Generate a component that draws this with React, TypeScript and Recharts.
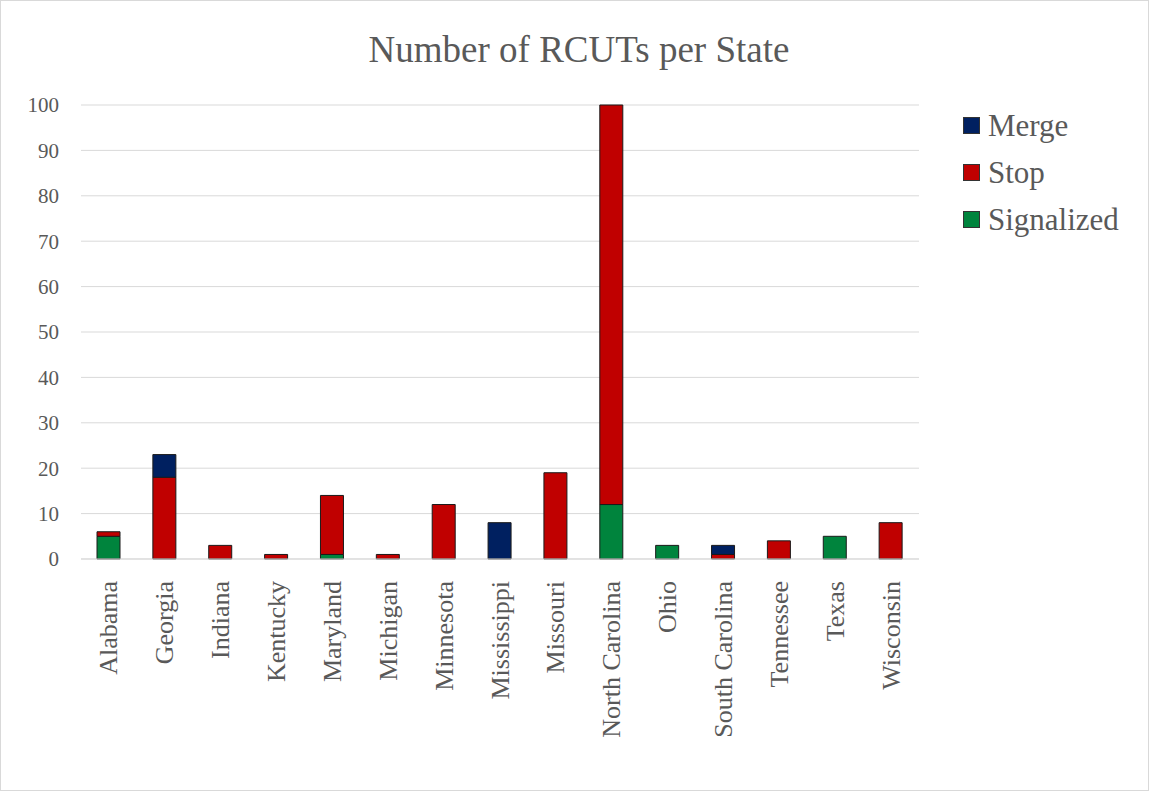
import { BarChart, Bar, XAxis, YAxis, CartesianGrid } from "recharts";

const states = [
  "Alabama", "Georgia", "Indiana", "Kentucky", "Maryland", "Michigan", "Minnesota",
  "Mississippi", "Missouri", "North Carolina", "Ohio", "South Carolina", "Tennessee",
  "Texas", "Wisconsin",
];
const signalized = [5, 0, 0, 0, 1, 0, 0, 0, 0, 12, 3, 0, 0, 5, 0];
const stop = [1, 18, 3, 1, 13, 1, 12, 0, 19, 88, 0, 1, 4, 0, 8];
const merge = [0, 5, 0, 0, 0, 0, 0, 8, 0, 0, 0, 2, 0, 0, 0];
const yTicks = [0, 10, 20, 30, 40, 50, 60, 70, 80, 90, 100];

const data = states.map((state, i) => ({
  state,
  Signalized: signalized[i],
  Stop: stop[i],
  Merge: merge[i],
}));

const COLORS = { Merge: "#002060", Stop: "#C00000", Signalized: "#00843D" };
const TEXT = "#595959";
const FONT = "'Liberation Serif', 'Times New Roman', serif";

function StateTick(props: any) {
  const { x, y, payload } = props;
  return (
    <text
      x={x}
      y={y + 14}
      transform={`rotate(-90, ${x}, ${y + 14})`}
      textAnchor="end"
      dominantBaseline="central"
      fill={TEXT}
      fontSize={26}
      fontFamily={FONT}
    >
      {payload.value}
    </text>
  );
}

// legend drawn outside the chart so it doesn't eat into the plot width
function LegendBox() {
  const items = ["Merge", "Stop", "Signalized"] as const;
  return (
    <div style={{ position: "absolute", left: 962, top: 101, fontFamily: FONT }}>
      {items.map((k) => (
        <div key={k} style={{ display: "flex", alignItems: "center", height: 47 }}>
          <span
            style={{
              width: 17,
              height: 17,
              background: COLORS[k],
              border: "1px solid #333",
              boxSizing: "border-box",
              marginRight: 8,
            }}
          />
          <span style={{ color: TEXT, fontSize: 31 }}>{k}</span>
        </div>
      ))}
    </div>
  );
}

export default function App() {
  return (
    <div
      style={{
        position: "absolute",
        left: 0,
        top: 0,
        width: 1147,
        height: 789,
        border: "1px solid #d9d9d9",
        background: "#fff",
      }}
    >
      <BarChart
        width={1151}
        height={793}
        data={data}
        margin={{ top: 104, right: 233, bottom: 35, left: 20 }}
        style={{ position: "absolute", left: 0, top: 0 }}
      >
        <CartesianGrid vertical={false} stroke="#d9d9d9" />
        <XAxis
          dataKey="state"
          interval={0}
          height={200}
          tick={<StateTick />}
          tickLine={false}
          axisLine={{ stroke: "#d9d9d9" }}
        />
        <YAxis
          width={60}
          domain={[0, 100]}
          ticks={yTicks}
          tickSize={0}
          tickMargin={22}
          axisLine={false}
          tickLine={false}
          tick={{ fill: TEXT, fontSize: 21, fontFamily: FONT }}
        />
        <Bar dataKey="Signalized" stackId="a" fill={COLORS.Signalized} stroke="#1a1a1a" strokeWidth={1} barSize={23} isAnimationActive={false} />
        <Bar dataKey="Stop" stackId="a" fill={COLORS.Stop} stroke="#1a1a1a" strokeWidth={1} barSize={23} isAnimationActive={false} />
        <Bar dataKey="Merge" stackId="a" fill={COLORS.Merge} stroke="#1a1a1a" strokeWidth={1} barSize={23} isAnimationActive={false} />
      </BarChart>
      <div
        style={{
          position: "absolute",
          top: 27,
          left: 0,
          width: 1156,
          textAlign: "center",
          fontFamily: FONT,
          fontSize: 37,
          color: TEXT,
        }}
      >
        Number of RCUTs per State
      </div>
      <LegendBox />
    </div>
  );
}
